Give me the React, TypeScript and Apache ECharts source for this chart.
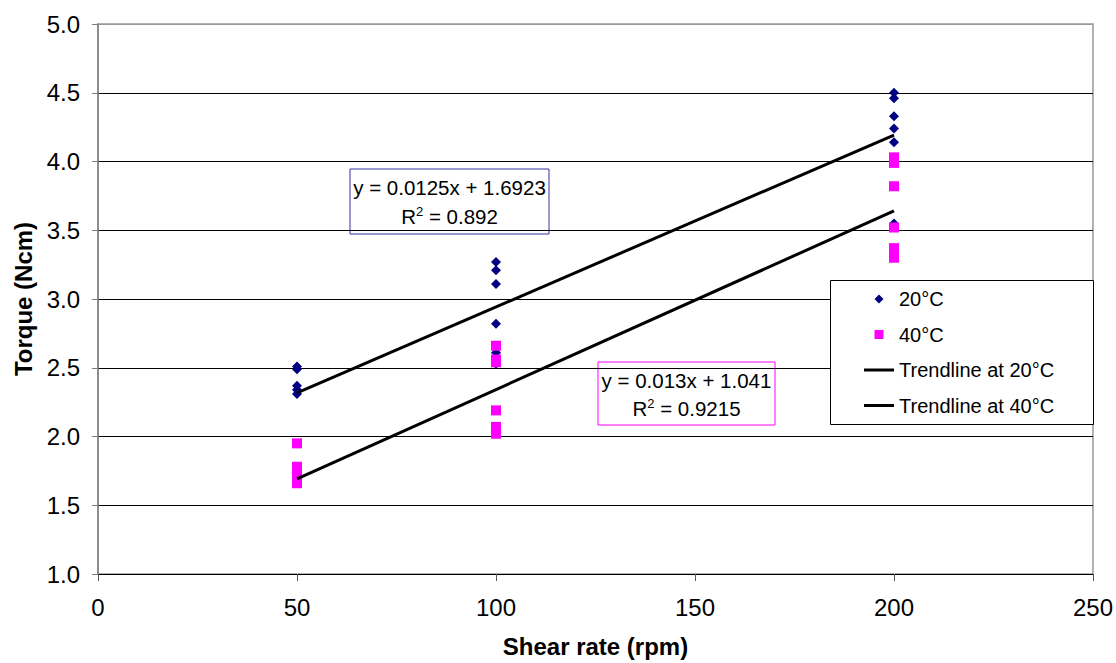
import React, { useEffect, useRef } from "react";
import * as echarts from "echarts";

// Shear rates (rpm) at which torque was measured
const shearRates = [50, 100, 200];

// Torque (Ncm) readings at 20°C, one array per shear rate
const torque20At50 = [2.51, 2.49, 2.37, 2.34, 2.31];
const torque20At100 = [3.27, 3.21, 3.11, 2.82, 2.61, 2.53];
const torque20At200 = [4.5, 4.46, 4.33, 4.24, 4.14, 3.55];

// Torque (Ncm) readings at 40°C, one array per shear rate
const torque40At50 = [1.95, 1.78, 1.74, 1.7, 1.66];
const torque40At100 = [2.66, 2.56, 2.54, 2.19, 2.07, 2.02];
const torque40At200 = [4.03, 3.99, 3.82, 3.52, 3.37, 3.34, 3.3];

// Trendline end points [shear rate, torque]
const trend20 = [
  [50, 2.317],
  [200, 4.192],
];
const trend40 = [
  [50, 1.691],
  [200, 3.641],
];

const seriesNames = ["20°C", "40°C", "Trendline at 20°C", "Trendline at 40°C"];
const eq20 = ["y = 0.0125x + 1.6923", "0.892"];
const eq40 = ["y = 0.013x + 1.041", "0.9215"];

const FONT = "'Liberation Sans', Arial, sans-serif";

// legend icons drawn in a 30x10 box (corner moves keep the box size)
const ICON_DIAMOND = "path://M0,0M30,10M15,0.5L19.5,5L15,9.5L10.5,5Z";
const ICON_SQUARE = "path://M0,0M30,10M10.5,0.5L19.5,0.5L19.5,9.5L10.5,9.5Z";
const ICON_LINE = "path://M0,0M30,10M0,3.5L30,3.5L30,6.5L0,6.5Z";

function toPairs(groups: number[][]) {
  const out: number[][] = [];
  groups.forEach((vals, i) => vals.forEach((v) => out.push([shearRates[i], v])));
  return out;
}

export default function App() {
  const ref = useRef<HTMLDivElement>(null);
  useEffect(() => {
    document.body.style.margin = "0";
    if (!ref.current) return;
    const chart = echarts.init(ref.current, null, { renderer: "svg" });
    const data20 = toPairs([torque20At50, torque20At100, torque20At200]);
    const data40 = toPairs([torque40At50, torque40At100, torque40At200]);
    const gridLineColors = ["#000", "#000", "#000", "#000", "#000", "#000", "#000", "#000", "#999"];
    const sup = { fontSize: 13, verticalAlign: "top", padding: [0, 0, 10, 0], fontFamily: FONT };
    const option: any = {
      animation: false,
      backgroundColor: "#fff",
      textStyle: { fontFamily: FONT },
      grid: {
        left: 98,
        right: 22,
        top: 24,
        bottom: 88,
        show: true,
        borderColor: "#999",
        borderWidth: 1.5,
        backgroundColor: "transparent",
      },
      xAxis: {
        type: "value",
        min: 0,
        max: 250,
        interval: 50,
        name: "Shear rate (rpm)",
        nameLocation: "middle",
        nameGap: 60,
        nameTextStyle: { fontSize: 24, fontWeight: "bold", color: "#000", fontFamily: FONT },
        axisLine: { show: true, lineStyle: { color: "#000", width: 1 } },
        axisTick: { show: true, inside: false, length: 7, lineStyle: { color: "#555", width: 1 } },
        axisLabel: { fontSize: 24, color: "#000", margin: 21, fontFamily: FONT },
        splitLine: { show: false },
      },
      yAxis: {
        type: "value",
        min: 1,
        max: 5,
        interval: 0.5,
        name: "Torque (Ncm)",
        nameLocation: "middle",
        nameGap: 62,
        nameTextStyle: { fontSize: 24, fontWeight: "bold", color: "#000", fontFamily: FONT },
        axisLine: { show: true, lineStyle: { color: "#808080", width: 1.5 } },
        axisTick: { show: true, inside: false, length: 6, lineStyle: { color: "#808080", width: 1 } },
        axisLabel: {
          fontSize: 24,
          color: "#000",
          margin: 18,
          fontFamily: FONT,
          formatter: (v: number) => v.toFixed(1),
        },
        splitLine: { show: true, lineStyle: { color: gridLineColors, width: 1 } },
      },
      legend: {
        orient: "vertical",
        left: 864,
        top: 289,
        padding: 0,
        z: 20,
        itemWidth: 30,
        itemHeight: 10,
        itemGap: 15.5,
        textStyle: { fontSize: 20, color: "#000", fontFamily: FONT, lineHeight: 20 },
        data: [
          { name: seriesNames[0], icon: ICON_DIAMOND, itemStyle: { color: "#000080", borderWidth: 0 } },
          { name: seriesNames[1], icon: ICON_SQUARE, itemStyle: { color: "#FF00FF", borderWidth: 0 } },
          { name: seriesNames[2], icon: ICON_LINE, itemStyle: { color: "#000", borderWidth: 0 } },
          { name: seriesNames[3], icon: ICON_LINE, itemStyle: { color: "#000", borderWidth: 0 } },
        ],
        selectedMode: false,
      },
      series: [
        {
          name: seriesNames[0],
          type: "scatter",
          symbol: "diamond",
          symbolSize: 10,
          itemStyle: { color: "#000080", opacity: 1 },
          data: data20,
          z: 2,
        },
        {
          name: seriesNames[1],
          type: "scatter",
          symbol: "rect",
          symbolSize: 10,
          itemStyle: { color: "#FF00FF", opacity: 1 },
          data: data40,
          z: 3,
        },
        {
          name: seriesNames[2],
          type: "line",
          symbol: "none",
          showSymbol: false,
          lineStyle: { color: "#000", width: 3 },
          itemStyle: { color: "#000" },
          data: trend20,
          z: 4,
        },
        {
          name: seriesNames[3],
          type: "line",
          symbol: "none",
          showSymbol: false,
          lineStyle: { color: "#000", width: 3 },
          itemStyle: { color: "#000" },
          data: trend40,
          z: 4,
        },
      ],
      graphic: [
        {
          type: "rect",
          left: 830,
          top: 280,
          shape: { width: 263, height: 144 },
          style: { fill: "#fff", stroke: "#000", lineWidth: 1 },
          z: 5,
        },
        {
          type: "group",
          z: 6,
          children: [
            {
              type: "rect",
              shape: { x: 350, y: 169, width: 199, height: 65 },
              style: { fill: "#fff", stroke: "#333399", lineWidth: 1 },
            },
            {
              type: "text",
              x: 449.5,
              y: 187,
              style: {
                text: eq20[0],
                fontSize: 20.5,
                fontFamily: FONT,
                fill: "#000",
                align: "center",
                verticalAlign: "middle",
              },
            },
            {
              type: "text",
              x: 449.5,
              y: 216,
              style: {
                text: "R{sup|2} = " + eq20[1],
                fontSize: 20.5,
                fontFamily: FONT,
                fill: "#000",
                align: "center",
                verticalAlign: "middle",
                rich: { sup },
              },
            },
          ],
        },
        {
          type: "group",
          z: 6,
          children: [
            {
              type: "rect",
              shape: { x: 598, y: 362, width: 177, height: 63 },
              style: { fill: "#fff", stroke: "#FF00FF", lineWidth: 1 },
            },
            {
              type: "text",
              x: 686.5,
              y: 380,
              style: {
                text: eq40[0],
                fontSize: 20.5,
                fontFamily: FONT,
                fill: "#000",
                align: "center",
                verticalAlign: "middle",
              },
            },
            {
              type: "text",
              x: 686.5,
              y: 408,
              style: {
                text: "R{sup|2} = " + eq40[1],
                fontSize: 20.5,
                fontFamily: FONT,
                fill: "#000",
                align: "center",
                verticalAlign: "middle",
                rich: { sup },
              },
            },
          ],
        },
      ],
    };
    chart.setOption(option);
    return () => chart.dispose();
  }, []);
  return <div ref={ref} style={{ width: 1116, height: 663 }} />;
}
